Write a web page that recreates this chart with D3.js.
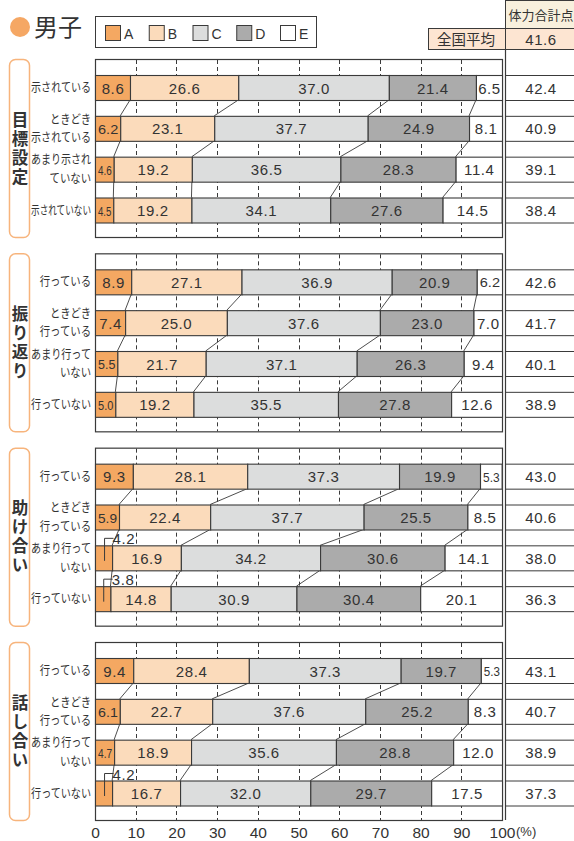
<!DOCTYPE html>
<html>
<head>
<meta charset="utf-8">
<script src="https://cdn.jsdelivr.net/npm/d3@7"></script>
<style>
  body { margin: 0; background: #fff; }
  svg text { font-family: "Liberation Sans", Arial, "Noto Sans CJK JP", sans-serif; fill: #333; }
  .jp { font-family: "Noto Sans CJK JP", sans-serif; }
</style>
</head>
<body>
<div id="chart"></div>
<script>
// ---- data ----
const keys = ["A", "B", "C", "D", "E"];
const groupNames = ["目標設定", "振り返り", "助け合い", "話し合い"];
const rowLabelsShimesu = [["示されている"], ["ときどき", "示されている"], ["あまり示され", "ていない"], ["示されていない"]];
const rowLabelsOkonau = [["行っている"], ["ときどき", "行っている"], ["あまり行って", "いない"], ["行っていない"]];

const mokuhyouSettei = [
    [8.6, 26.6, 37.0, 21.4, 6.5],
    [6.2, 23.1, 37.7, 24.9, 8.1],
    [4.6, 19.2, 36.5, 28.3, 11.4],
    [4.5, 19.2, 34.1, 27.6, 14.5]
];
const furikaeri = [
    [8.9, 27.1, 36.9, 20.9, 6.2],
    [7.4, 25.0, 37.6, 23.0, 7.0],
    [5.5, 21.7, 37.1, 26.3, 9.4],
    [5.0, 19.2, 35.5, 27.8, 12.6]
];
const tasukeai = [
    [9.3, 28.1, 37.3, 19.9, 5.3],
    [5.9, 22.4, 37.7, 25.5, 8.5],
    [4.2, 16.9, 34.2, 30.6, 14.1],
    [3.8, 14.8, 30.9, 30.4, 20.1]
];
const hanashiai = [
    [9.4, 28.4, 37.3, 19.7, 5.3],
    [6.1, 22.7, 37.6, 25.2, 8.3],
    [4.7, 18.9, 35.6, 28.8, 12.0],
    [4.2, 16.7, 32.0, 29.7, 17.5]
];
const scoreMokuhyou = [42.4, 40.9, 39.1, 38.4];
const scoreFurikaeri = [42.6, 41.7, 40.1, 38.9];
const scoreTasukeai = [43.0, 40.6, 38.0, 36.3];
const scoreHanashiai = [43.1, 40.7, 38.9, 37.3];
const nationalAverage = 41.6;
const tickValues = [0, 10, 20, 30, 40, 50, 60, 70, 80, 90, 100];

const panels = [
    { name: groupNames[0], labels: rowLabelsShimesu, rows: mokuhyouSettei, scores: scoreMokuhyou },
    { name: groupNames[1], labels: rowLabelsOkonau, rows: furikaeri, scores: scoreFurikaeri },
    { name: groupNames[2], labels: rowLabelsOkonau, rows: tasukeai, scores: scoreTasukeai },
    { name: groupNames[3], labels: rowLabelsOkonau, rows: hanashiai, scores: scoreHanashiai }
];

// ---- layout ----
const width = 574, height = 841;
const stroke = "#3a3a3a";
const color = d3.scaleOrdinal().domain(keys)
    .range(["#f4a862", "#fbdbbb", "#dcdddd", "#ababab", "#ffffff"]);

const x = d3.scaleLinear().domain([0, 100]).range([95, 502]);
const panelTop = d3.scaleLinear().domain([0, 3]).range([59, 642]);
const rowTop = d3.scaleLinear().domain([0, 3]).range([16, 138.5]);
const panelH = 178, barH = 25;
const colX = 505.5, colMid = 541;
const numFont = "15px", numSpacing = "0.6px";

const svg = d3.select("#chart").append("svg")
    .attr("width", width).attr("height", height);

// title
svg.append("circle").attr("cx", 20).attr("cy", 27).attr("r", 10).attr("fill", "#f5a764");
svg.append("text").attr("class", "jp").attr("x", 34).attr("y", 36)
    .style("font-size", "24px").text("男子");

// legend
svg.append("rect").attr("x", 95.5).attr("y", 16.5).attr("width", 221).attr("height", 31)
    .attr("fill", "#fff").attr("stroke", stroke);
const legendX = d3.scalePoint().domain(keys).range([105, 280]);
const lg = svg.selectAll(".legend").data(keys).join("g")
    .attr("transform", d => `translate(${legendX(d)},25)`);
lg.append("rect").attr("x", 0.5).attr("y", 0.5).attr("width", 15).attr("height", 15)
    .attr("fill", d => color(d)).attr("stroke", stroke);
lg.append("text").attr("x", 19).attr("y", 13.5).style("font-size", "14px").text(d => d);

// header table on the right
svg.append("rect").attr("x", colX).attr("y", 0.5).attr("width", 80).attr("height", 28)
    .attr("fill", "#f8f0dd").attr("stroke", stroke);
svg.append("text").attr("class", "jp").attr("x", colMid).attr("y", 20)
    .attr("text-anchor", "middle").style("font-size", "13px").text("体力合計点");
svg.append("rect").attr("x", 428.5).attr("y", 28.5).attr("width", 160).attr("height", 21)
    .attr("fill", "#fde5d2").attr("stroke", stroke);
svg.append("line").attr("x1", colX).attr("x2", colX).attr("y1", 28.5).attr("y2", 49.5).attr("stroke", stroke);
svg.append("text").attr("class", "jp").attr("x", 466).attr("y", 45)
    .attr("text-anchor", "middle").style("font-size", "14.5px").text("全国平均");
svg.append("text").attr("x", colMid).attr("y", 45).attr("text-anchor", "middle")
    .style("font-size", numFont).style("letter-spacing", numSpacing).text(nationalAverage.toFixed(1));

// vertical separator of the score column
svg.append("line").attr("x1", colX).attr("x2", colX).attr("y1", 49).attr("y2", 820)
    .attr("stroke", stroke).attr("stroke-width", 1.2);

panels.forEach((p, pi) => {
    const top = panelTop(pi);
    const g = svg.append("g").attr("transform", `translate(0,${top})`);

    // group label box with vertical text
    g.append("rect").attr("x", 9.5).attr("y", 0.5).attr("width", 20).attr("height", panelH)
        .attr("rx", 6).attr("fill", "none").attr("stroke", "#f7b47c").attr("stroke-width", 1.5);
    g.append("text")
        .attr("class", "jp")
        .attr("x", 20).attr("y", panelH / 2 + 1)
        .attr("writing-mode", "vertical-rl")
        .attr("text-anchor", "middle")
        .style("font-size", "16.5px").style("font-weight", "bold")
        .style("letter-spacing", "2.5px")
        .text(p.name);

    // panel frame
    g.append("rect").attr("x", x(0) + 0.5).attr("y", 0.5).attr("width", x(100) - x(0)).attr("height", panelH)
        .attr("fill", "#fff").attr("stroke", stroke).attr("stroke-width", 1.2);

    // dashed gridlines
    g.selectAll(".grid").data(tickValues.slice(1, -1)).join("line")
        .attr("x1", d => Math.round(x(d)) + 0.5).attr("x2", d => Math.round(x(d)) + 0.5)
        .attr("y1", 1).attr("y2", panelH)
        .attr("stroke", stroke).attr("stroke-dasharray", "4,3");

    const cums = p.rows.map(r => {
        let s = 0;
        return r.map(v => { const a = s; s += v; return [a, Math.min(s, 100)]; });
    });

    // connector lines between rows
    for (let j = 0; j < 3; j++) {
        for (let k = 0; k < 4; k++) {
            g.append("line")
                .attr("x1", x(cums[j][k][1])).attr("y1", rowTop(j) + barH)
                .attr("x2", x(cums[j + 1][k][1])).attr("y2", rowTop(j + 1))
                .attr("stroke", stroke).attr("stroke-width", 0.9);
        }
    }

    p.rows.forEach((r, j) => {
        const y0 = rowTop(j);
        const rg = g.append("g").attr("transform", `translate(0,${y0})`);
        const segs = r.map((v, k) => ({ key: keys[k], v, a: cums[j][k][0], b: cums[j][k][1] }));

        rg.selectAll(".seg").data(segs).join("rect")
            .attr("x", d => x(d.a) + 0.5).attr("y", 0.5)
            .attr("width", d => x(d.b) - x(d.a)).attr("height", barH)
            .attr("fill", d => color(d.key)).attr("stroke", stroke).attr("stroke-width", 1.1);

        segs.forEach(d => {
            const w = x(d.b) - x(d.a);
            const label = d.v.toFixed(1);
            if (d.v < 4.4) {
                // small value: label outside with a bracket leader
                const mx = x(d.a) + w / 2 + 1;
                rg.append("path")
                    .attr("d", `M${mx},${barH / 2 + 3}V-7H${mx + 9}`)
                    .attr("fill", "none").attr("stroke", stroke);
                rg.append("text").attr("x", mx + 8).attr("y", -1)
                    .style("font-size", numFont).style("letter-spacing", numSpacing).text(label);
                return;
            }
            const lab = rg.append("g")
                .attr("transform", `translate(${x(d.a) + w / 2 + 0.5},${barH / 2 + 6})`);
            const t = lab.append("text")
                .attr("text-anchor", "middle")
                .style("font-size", numFont).style("letter-spacing", numSpacing)
                .text(label);
            const natural = t.node().getComputedTextLength();
            if (natural > w - 3) {
                // squeeze narrow labels horizontally
                t.style("font-size", "13.5px").style("letter-spacing", "0px");
                const n2 = t.node().getComputedTextLength();
                lab.attr("transform", `translate(${x(d.a) + w / 2 + 0.5},${barH / 2 + 5.5}) scale(${(w - 5) / n2},1)`);
            }
        });

        // row label, horizontally condensed like the original typesetting
        const lines = p.labels[j];
        lines.forEach((line, i) => {
            const lab = rg.append("g");
            const t = lab.append("text").attr("class", "jp")
                .attr("text-anchor", "end").style("font-size", "12.5px").text(line);
            const natural = t.node().getComputedTextLength();
            const sx = Math.min(0.83, 60 / natural);
            lab.attr("transform",
                `translate(91,${barH / 2 + 4.5 + (i - (lines.length - 1) / 2) * 18.5}) scale(${sx},1)`);
        });

        // score column box
        rg.append("line").attr("x1", colX).attr("x2", width).attr("y1", 0.5).attr("y2", 0.5).attr("stroke", stroke);
        rg.append("line").attr("x1", colX).attr("x2", width).attr("y1", barH + 0.5).attr("y2", barH + 0.5).attr("stroke", stroke);
        rg.append("text").attr("x", colMid).attr("y", barH / 2 + 6)
            .attr("text-anchor", "middle")
            .style("font-size", numFont).style("letter-spacing", numSpacing)
            .text(p.scores[j].toFixed(1));
    });
});

// x axis
const axisG = svg.append("g").attr("transform", `translate(0,${panelTop(3) + panelH})`)
    .call(d3.axisBottom(x).tickValues(tickValues).tickSize(0).tickPadding(7).tickFormat(d3.format("d")));
axisG.select(".domain").remove();
axisG.selectAll("text").style("font-size", "15.5px").style("font-family", "'Liberation Sans', Arial, sans-serif").attr("fill", "#333");
svg.append("text").attr("x", 516).attr("y", 836).style("font-size", "13px").text("(%)");
</script>
</body>
</html>
